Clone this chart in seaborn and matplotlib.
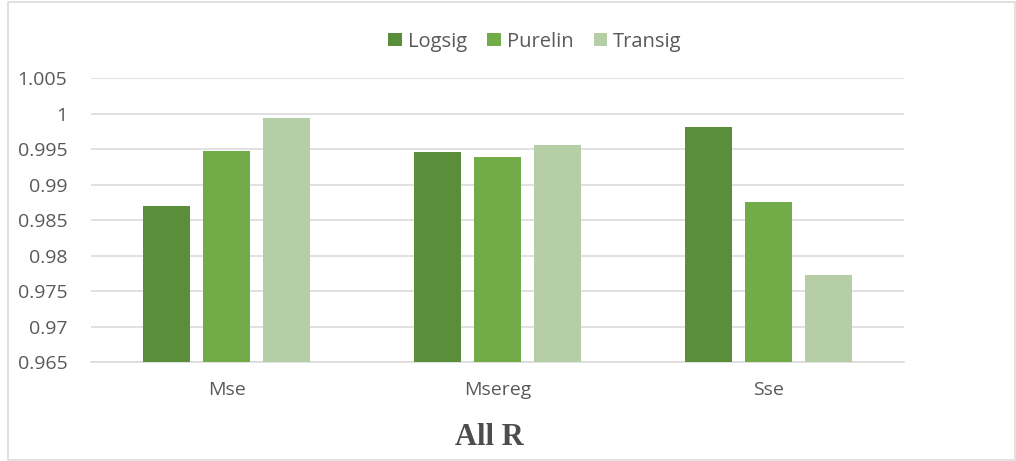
import matplotlib
matplotlib.use("Agg")
import matplotlib.pyplot as plt
from matplotlib.patches import Rectangle
import seaborn as sns
import pandas as pd

# Performance functions and transfer functions
categories = ["Mse", "Msereg", "Sse"]
series_names = ["Logsig", "Purelin", "Transig"]
logsig = [0.98700, 0.99457, 0.99814]
purelin = [0.99470, 0.99395, 0.98760]
transig = [0.99936, 0.99556, 0.97722]
y_ticks = [0.965, 0.97, 0.975, 0.98, 0.985, 0.99, 0.995, 1.0, 1.005]
title_text = "All R"

colors = ["#5B8E3A", "#71AC48", "#B5CEA6"]
text_color = "#595959"
grid_color = "#D9D9D9"

df = pd.DataFrame({
    "category": categories * 3,
    "series": [s for s in series_names for _ in categories],
    "value": logsig + purelin + transig,
})

sns.set_theme(style="white")
plt.rcParams["font.family"] = ["Open Sans", "DejaVu Sans"]

W, H = 1016, 461
fig = plt.figure(figsize=(W / 100, H / 100), dpi=100)
ax = fig.add_axes([91 / W, 1 - 362 / H, (904 - 91) / W, (362 - 78.3) / H])

sns.barplot(data=df, x="category", y="value", hue="series",
            hue_order=series_names, order=categories, palette=colors,
            saturation=1, width=0.664, gap=0.218, linewidth=0, ax=ax, zorder=3)

ax.set_xlim(-0.5, 2.5)
ax.set_ylim(y_ticks[0], y_ticks[-1])
ax.set_yticks(y_ticks)
ax.set_yticklabels([f"{v:g}" for v in y_ticks])
ax.grid(axis="y", color=grid_color, linewidth=1.1, zorder=0)
ax.set_axisbelow(True)
for s in ["top", "right", "left"]:
    ax.spines[s].set_visible(False)
ax.spines["bottom"].set_color(grid_color)
ax.spines["bottom"].set_linewidth(1.1)
ax.tick_params(axis="y", length=0, pad=17, labelsize=14, labelcolor=text_color)
ax.tick_params(axis="x", length=0, pad=14, labelsize=14, labelcolor=text_color)
ax.set_xlabel("")
ax.set_ylabel("")

handles, labels = ax.get_legend_handles_labels()
ax.legend(handles, labels, loc="center", ncol=3, frameon=False,
          bbox_to_anchor=(535 / W, 1 - 41.7 / H), bbox_transform=fig.transFigure,
          fontsize=14.5, labelcolor=text_color, handlelength=0.67, handleheight=0.67,
          handletextpad=0.3, columnspacing=1.0)

fig.text(489 / W, 1 - 437 / H, title_text, ha="center", va="center",
         family=["Liberation Serif", "DejaVu Serif"], fontweight="bold",
         fontsize=22, color="#4D4D4D")

# Chart-area frame
fig.patches.append(Rectangle((8 / W, 1 / H), (1015 - 8) / W, (458.5 - 1) / H,
                             transform=fig.transFigure, fill=False,
                             edgecolor=grid_color, linewidth=1.1))

fig.savefig("out.png", dpi=100, facecolor="white")
